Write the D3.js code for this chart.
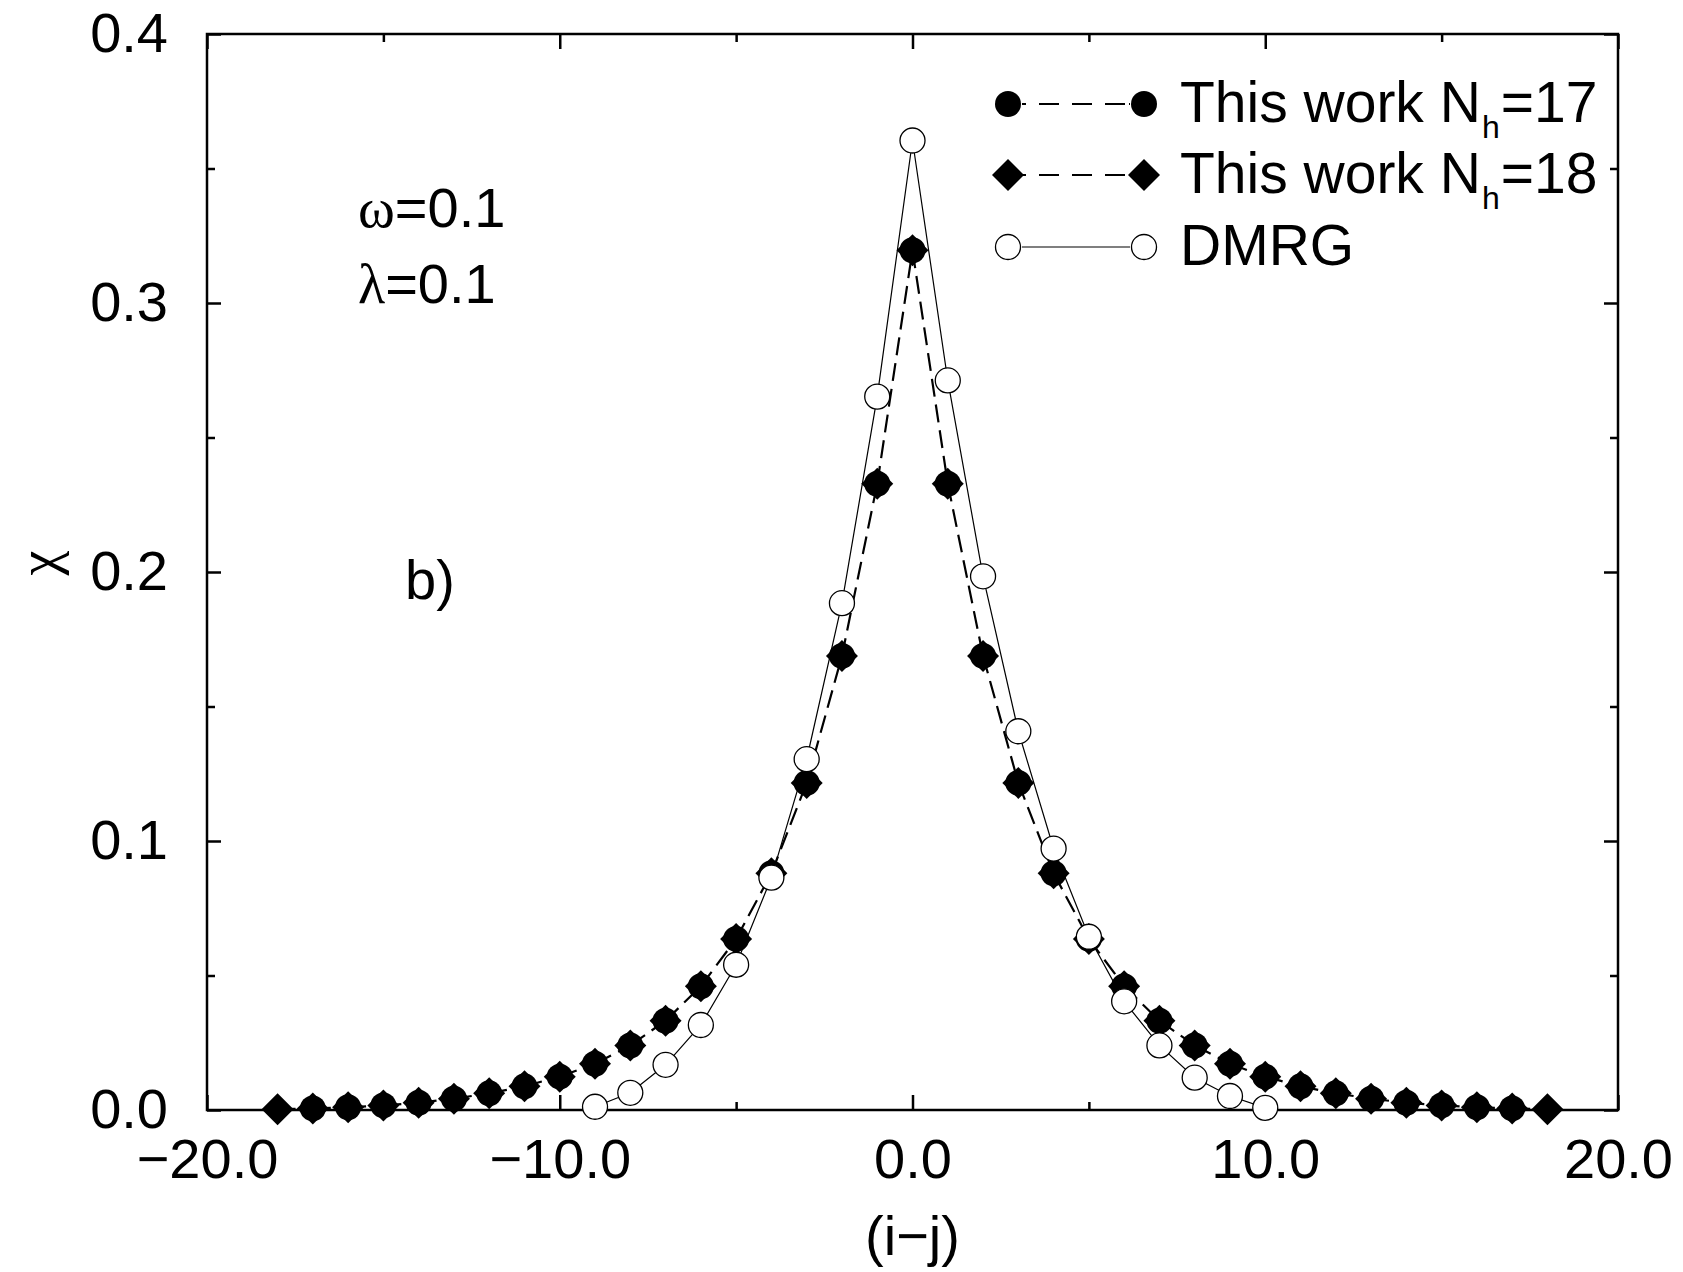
<!DOCTYPE html>
<html>
<head>
<meta charset="utf-8">
<script src="https://cdn.jsdelivr.net/npm/d3@7"></script>
<style>
  body { margin: 0; background: #fff; }
  text { font-family: "Liberation Sans", Arial, Helvetica, sans-serif; fill: #000; }
</style>
</head>
<body>
<script>
// data
const nh17X = [-17,-16,-15,-14,-13,-12,-11,-10,-9,-8,-7,-6,-5,-4,-3,-2,-1,0,1,2,3,4,5,6,7,8,9,10,11,12,13,14,15,16,17];
const nh17Y = [0.0006,0.001,0.0017,0.0027,0.0042,0.0062,0.0088,0.0124,0.0172,0.024,0.0332,0.046,0.0636,0.088,0.1216,0.1688,0.2328,0.3196,
               0.2328,0.1688,0.1216,0.088,0.0636,0.046,0.0332,0.024,0.0172,0.0124,0.0088,0.0062,0.0042,0.0027,0.0017,0.001,0.0006];
const nh18X = [-18,-17,-16,-15,-14,-13,-12,-11,-10,-9,-8,-7,-6,-5,-4,-3,-2,-1,0,1,2,3,4,5,6,7,8,9,10,11,12,13,14,15,16,17,18];
const nh18Y = [0.0003,0.0006,0.001,0.0017,0.0027,0.0042,0.0062,0.0088,0.0124,0.0172,0.024,0.0332,0.046,0.0636,0.088,0.1216,0.1688,0.2328,0.3196,
               0.2328,0.1688,0.1216,0.088,0.0636,0.046,0.0332,0.024,0.0172,0.0124,0.0088,0.0062,0.0042,0.0027,0.0017,0.001,0.0006,0.0003];
const dmrgX = [-9,-8,-7,-6,-5,-4,-3,-2,-1,0,1,2,3,4,5,6,7,8,9,10];
const dmrgY = [0.0012,0.0064,0.0168,0.0316,0.054,0.0864,0.1304,0.1884,0.2652,0.3604,0.2712,0.1984,0.1408,0.0972,0.0644,0.0404,0.024,0.012,0.0052,0.0008];

const xMajor = [-20,-10,0,10,20];
const xMinor = [-15,-5,5,15];
const yMajor = [0,0.1,0.2,0.3,0.4];
const yMinor = [0.05,0.15,0.25,0.35];
const legendLabels = [["This work N","h","=17"],["This work N","h","=18"],["DMRG","",""]];

const W = 1683, H = 1272;
const margin = {top: 34, right: 65, bottom: 162, left: 207};
const fs = 56;

const svg = d3.select("body").append("svg")
  .attr("width", W).attr("height", H);

const x = d3.scaleLinear().domain([-20, 20]).range([margin.left, W - margin.right]);
const y = d3.scaleLinear().domain([0, 0.4]).range([H - margin.bottom, margin.top]);
const fmt = d3.format(".1f");

// axes: ticks pointing inward on all four sides
function addAxis(axis, tr) {
  const g = svg.append("g").attr("transform", tr).call(axis);
  g.select(".domain").remove();
  g.selectAll("line").attr("stroke", "#000").attr("stroke-width", 2.5);
  g.selectAll("text").style("font-size", fs + "px").attr("fill", "#000")
    .style("font-family", '"Liberation Sans", Arial, sans-serif');
  return g;
}
const x0 = y(0), y1 = y(0.4), xl = x(-20), xr = x(20);

addAxis(d3.axisBottom(x).tickValues(xMajor).tickSize(-15).tickPadding(28).tickFormat(fmt), `translate(0,${x0})`);
addAxis(d3.axisBottom(x).tickValues(xMinor).tickSize(-8).tickFormat(""), `translate(0,${x0})`);
addAxis(d3.axisTop(x).tickValues(xMajor).tickSize(-15).tickFormat(""), `translate(0,${y1})`);
addAxis(d3.axisTop(x).tickValues(xMinor).tickSize(-8).tickFormat(""), `translate(0,${y1})`);
addAxis(d3.axisLeft(y).tickValues(yMajor).tickSize(-14).tickPadding(39).tickFormat(fmt), `translate(${xl},0)`);
addAxis(d3.axisLeft(y).tickValues(yMinor).tickSize(-8).tickFormat(""), `translate(${xl},0)`);
addAxis(d3.axisRight(y).tickValues(yMajor).tickSize(-14).tickFormat(""), `translate(${xr},0)`);
addAxis(d3.axisRight(y).tickValues(yMinor).tickSize(-8).tickFormat(""), `translate(${xr},0)`);

svg.append("rect")
  .attr("x", xl).attr("y", y1).attr("width", xr - xl).attr("height", x0 - y1)
  .attr("fill", "none").attr("stroke", "#000").attr("stroke-width", 2.5);

// series
const line = d3.line().x(d => x(d[0])).y(d => y(d[1]));
const s17 = nh17X.map((v, i) => [v, nh17Y[i]]);
const s18 = nh18X.map((v, i) => [v, nh18Y[i]]);
const sd = dmrgX.map((v, i) => [v, dmrgY[i]]);

const diamond = "M0,-16L16,0L0,16L-16,0Z";

// dashed lines: one pattern per segment so the gaps show between markers
function dashed(data) {
  for (let i = 1; i < data.length; i++) {
    svg.append("line")
      .attr("x1", x(data[i - 1][0])).attr("y1", y(data[i - 1][1]))
      .attr("x2", x(data[i][0])).attr("y2", y(data[i][1]))
      .attr("stroke", "#000").attr("stroke-width", 2.2).attr("stroke-dasharray", "18,8");
  }
}
dashed(s18);

svg.selectAll(".c17").data(s17).enter().append("circle")
  .attr("cx", d => x(d[0])).attr("cy", d => y(d[1])).attr("r", 13).attr("fill", "#000");
svg.selectAll(".d18").data(s18).enter().append("path")
  .attr("transform", d => `translate(${x(d[0])},${y(d[1])})`).attr("d", diamond).attr("fill", "#000");

svg.append("path").datum(sd).attr("d", line).attr("fill", "none")
  .attr("stroke", "#000").attr("stroke-width", 1.2);
svg.selectAll(".dm").data(sd).enter().append("circle")
  .attr("cx", d => x(d[0])).attr("cy", d => y(d[1])).attr("r", 12.5)
  .attr("fill", "#fff").attr("stroke", "#000").attr("stroke-width", 1.3);

// legend
const legRows = [104, 175, 247];
const legX1 = 1008, legX2 = 1144, legText = 1180;
legendLabels.forEach((lab, i) => {
  const ly = legRows[i];
  const g = svg.append("g");
  g.append("line").attr("x1", legX1 + 14).attr("x2", legX2 - 14).attr("y1", ly).attr("y2", ly)
    .attr("stroke", "#000").attr("stroke-width", i < 2 ? 2 : 1.2)
    .attr("stroke-dasharray", i < 2 ? "4,13,20,13,20,13,20" : null);
  [legX1, legX2].forEach(cx => {
    if (i === 0) g.append("circle").attr("cx", cx).attr("cy", ly).attr("r", 13).attr("fill", "#000");
    else if (i === 1) g.append("path").attr("transform", `translate(${cx},${ly})`).attr("d", diamond).attr("fill", "#000");
    else g.append("circle").attr("cx", cx).attr("cy", ly).attr("r", 12.5)
      .attr("fill", "#fff").attr("stroke", "#000").attr("stroke-width", 1.3);
  });
  const t = g.append("text").attr("x", legText).attr("y", ly + 18).style("font-size", "57px");
  t.append("tspan").text(lab[0]);
  if (lab[1]) {
    t.append("tspan").attr("dx", 1).attr("dy", 16).style("font-size", "32px").text(lab[1]);
    t.append("tspan").attr("dx", 1).attr("dy", -16).text(lab[2]);
  }
});

// annotations
const greek = '"Liberation Serif", "Times New Roman", serif';
const a1 = svg.append("text").attr("x", 358).attr("y", 227).style("font-size", fs + "px");
a1.append("tspan").style("font-family", greek).text("ω");
a1.append("tspan").text("=0.1");
const a2 = svg.append("text").attr("x", 358).attr("y", 303).style("font-size", fs + "px");
a2.append("tspan").style("font-family", greek).text("λ");
a2.append("tspan").text("=0.1");

svg.append("text").attr("x", 405).attr("y", 599).style("font-size", fs + "px").text("b)");

svg.append("text").attr("transform", "translate(38,563) rotate(-90)")
  .attr("text-anchor", "middle").attr("dominant-baseline", "central")
  .style("font-size", fs + "px").style("font-family", greek).text("χ");

svg.append("text").attr("x", (xl + xr) / 2).attr("y", 1255).attr("text-anchor", "middle")
  .style("font-size", fs + "px").text("(i−j)");
</script>
</body>
</html>
